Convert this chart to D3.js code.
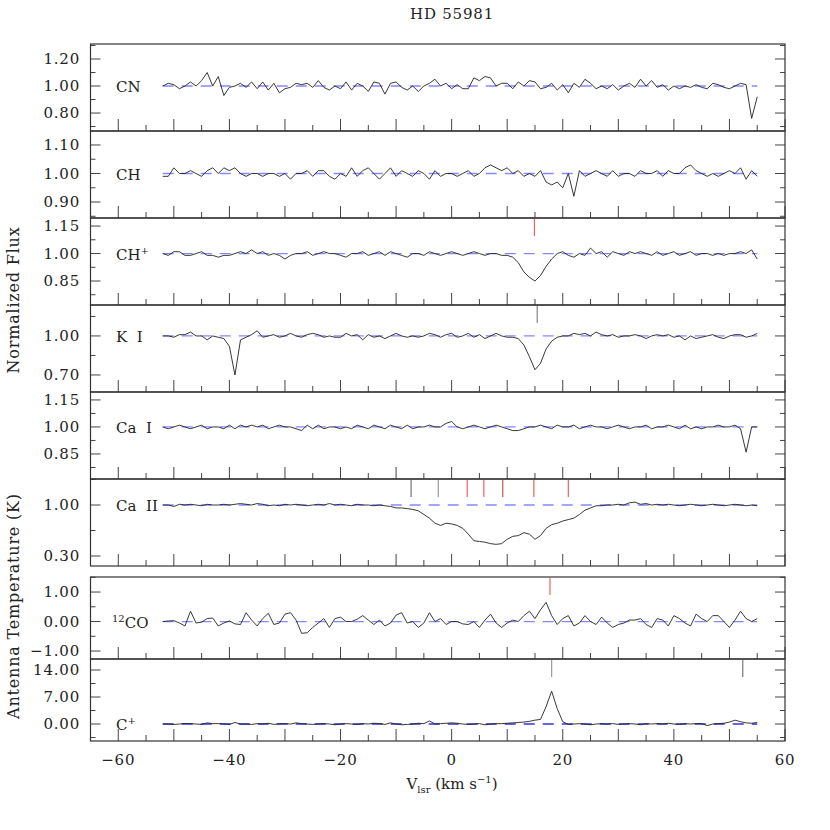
<!DOCTYPE html>
<html><head><meta charset="utf-8">
<script src="https://cdn.jsdelivr.net/npm/d3@7"></script>
<style>body{margin:0;background:#fff}</style></head>
<body><svg id="c" width="830" height="830"></svg>
<script>
const velStart = -52, velStep = 1;
const species = ["CN","CH","CH+","K I","Ca I","Ca II","12CO","C+"];
const CN = [1.00,1.02,1.01,0.98,1.00,1.03,1.00,1.04,1.10,1.00,
1.07,0.93,0.99,1.00,1.02,0.99,1.03,0.98,1.03,0.97,
1.02,0.95,0.98,0.99,1.02,1.01,1.02,0.99,1.04,0.99,
0.97,1.00,0.98,1.03,0.97,1.02,1.00,0.96,1.03,1.02,
0.94,1.02,1.03,0.99,0.97,1.00,0.96,1.00,1.02,1.05,
1.00,1.02,0.98,1.01,0.98,0.98,1.06,1.04,1.07,1.06,
1.00,1.02,1.02,0.98,1.03,1.00,1.04,1.03,0.98,0.99,
1.02,0.97,1.01,0.95,1.02,0.99,1.05,1.02,0.98,1.00,
0.98,1.01,0.97,1.00,1.02,0.99,1.05,1.00,1.04,0.99,
1.01,0.97,1.00,0.98,1.00,0.99,1.01,0.99,0.98,1.02,
1.01,0.99,0.98,1.00,1.02,1.01,0.76,0.92];
const CH = [0.99,0.99,1.02,1.00,1.00,1.01,1.00,0.99,1.01,1.02,
1.00,1.02,1.01,1.02,1.00,0.99,1.00,1.00,0.99,1.00,
1.00,0.99,1.00,0.98,1.00,1.00,1.01,0.99,1.01,1.01,
0.99,0.98,1.00,0.99,1.02,0.99,1.01,1.02,1.00,0.98,
1.00,1.02,0.99,1.01,1.00,0.99,1.01,1.00,0.98,1.01,
0.99,1.00,1.00,0.99,1.00,1.01,0.99,1.00,1.02,1.03,
1.02,1.01,1.02,1.00,1.01,0.99,1.00,0.99,1.01,0.97,
0.96,0.97,0.95,1.00,0.92,1.01,0.99,1.00,1.01,1.00,
0.99,1.01,0.99,1.00,1.00,0.99,1.01,1.00,1.00,1.01,
0.99,1.01,1.00,1.00,1.02,1.03,1.01,1.00,0.99,1.00,
0.99,1.00,1.01,1.00,1.02,0.98,1.01,0.99];
const CHp = [1.00,0.99,1.01,1.01,0.99,0.99,1.00,1.01,0.99,0.99,
0.98,0.99,0.99,1.00,1.01,1.00,1.02,1.00,1.01,0.99,
1.00,0.99,0.97,0.99,1.00,1.00,1.01,0.99,1.00,1.01,
1.00,1.00,0.99,0.98,1.00,1.00,1.01,0.99,1.00,1.01,
0.99,1.01,1.00,0.99,0.98,1.00,1.00,0.99,1.01,1.00,
0.99,1.00,1.01,1.00,0.99,1.00,1.01,1.00,0.99,1.00,
1.00,0.99,0.99,0.98,0.95,0.90,0.87,0.85,0.88,0.93,
0.97,1.00,1.01,0.99,0.98,1.00,0.99,1.03,1.00,1.01,
0.98,1.01,1.00,0.99,1.01,1.00,1.01,1.00,0.99,1.01,
0.99,1.00,1.01,0.99,1.00,1.01,0.99,1.00,1.00,0.99,
1.00,0.99,1.00,1.00,1.01,1.00,1.02,0.97];
const KI = [1.00,1.00,0.99,1.01,1.01,1.03,1.00,1.00,0.97,1.00,
0.99,0.98,0.92,0.70,0.97,0.99,1.01,1.04,0.99,1.00,
1.01,0.99,1.00,1.02,1.00,0.99,1.01,1.02,1.01,0.99,
1.00,0.99,0.99,1.02,1.00,1.01,0.97,1.01,0.99,1.00,
0.98,1.00,1.02,1.00,0.99,1.00,0.99,1.00,1.02,1.01,
0.99,1.01,1.02,0.99,1.00,1.02,0.99,1.01,0.98,1.00,
1.02,1.00,0.99,0.99,0.98,0.93,0.84,0.74,0.79,0.90,
0.96,0.99,1.00,1.00,1.02,1.01,1.02,1.00,1.03,1.01,
1.00,1.01,0.99,1.00,1.00,1.01,1.00,0.98,1.00,1.01,
1.00,1.01,0.99,1.00,0.97,1.00,0.98,0.99,1.00,1.01,
0.99,0.98,1.00,1.01,1.01,0.99,1.00,1.02];
const CaI = [1.00,0.99,1.00,1.01,1.00,0.99,1.00,1.01,0.99,1.00,
1.00,0.99,1.01,0.99,1.01,1.00,1.01,1.00,1.01,0.99,
1.00,1.01,1.00,1.00,0.99,0.98,1.01,0.99,1.01,0.99,
1.00,1.00,0.99,1.00,0.99,1.01,1.00,0.99,1.01,1.00,
0.99,1.01,1.00,0.99,1.01,0.99,1.00,1.00,1.01,1.00,
1.00,1.02,1.03,1.00,0.99,1.00,1.01,1.00,0.99,1.00,
1.01,1.00,0.99,0.98,0.98,0.99,1.00,1.00,1.01,1.00,
0.99,1.01,1.00,1.00,1.01,0.99,1.00,1.01,1.00,1.00,
0.99,1.00,1.01,1.00,0.99,1.00,1.00,1.01,0.99,1.00,
1.00,1.01,1.00,0.99,1.01,0.99,1.00,0.99,1.00,1.00,
1.01,1.00,1.00,1.01,0.99,0.86,1.00,1.00];
const CaII = [1.00,1.00,0.98,1.01,1.00,1.01,1.00,0.99,1.01,1.00,
1.00,1.01,1.00,1.01,1.02,1.01,1.00,1.02,1.01,0.99,
1.00,0.99,1.01,1.00,1.01,1.00,0.99,1.00,1.01,1.00,
1.02,1.00,1.01,1.00,0.99,1.01,1.00,1.00,0.99,1.00,
0.99,0.98,0.96,0.96,0.95,0.94,0.92,0.87,0.82,0.75,
0.72,0.75,0.74,0.72,0.68,0.60,0.51,0.50,0.49,0.47,
0.46,0.47,0.53,0.57,0.58,0.62,0.60,0.53,0.58,0.68,
0.73,0.75,0.78,0.80,0.82,0.87,0.93,0.96,0.99,0.99,
1.00,1.00,1.01,1.00,1.03,1.04,1.01,1.02,1.00,1.01,
1.00,1.01,1.00,0.99,1.00,1.01,1.00,0.99,1.00,1.01,
1.00,0.99,1.00,1.01,1.00,0.99,1.00,0.99];
const CO = [0.00,0.02,0.03,-0.05,-0.15,0.35,-0.05,-0.02,0.10,0.12,
-0.15,-0.05,0.02,-0.08,-0.10,0.30,0.05,-0.15,0.10,0.28,
-0.10,-0.05,0.25,0.30,0.05,-0.40,-0.38,-0.20,-0.05,0.10,
-0.20,0.10,0.15,0.00,0.00,0.08,0.20,0.05,-0.10,0.05,
-0.15,-0.05,0.22,0.30,-0.05,0.00,-0.20,-0.05,0.30,0.00,
0.10,-0.10,0.00,0.00,-0.08,-0.10,0.00,-0.20,0.05,0.25,
-0.05,-0.20,-0.05,0.05,0.00,0.20,0.35,0.10,0.40,0.65,
0.20,-0.10,0.10,0.20,-0.15,-0.05,0.20,0.00,-0.10,0.15,
-0.05,-0.20,-0.10,-0.05,0.05,0.05,0.10,-0.10,-0.20,0.10,
0.05,-0.15,0.20,0.10,-0.05,-0.15,0.25,0.10,0.00,0.20,
0.20,0.00,-0.20,0.05,0.35,0.10,0.00,0.10];
const Cp = [0.00,0.00,-0.10,0.00,0.15,0.10,0.00,-0.10,0.30,0.10,
0.10,0.05,-0.10,0.40,0.00,0.00,-0.10,0.10,0.00,0.20,
-0.10,0.05,0.10,0.00,0.30,0.10,0.00,-0.10,0.00,0.10,
0.00,-0.20,0.00,0.10,0.00,-0.10,0.10,0.00,0.20,0.10,
-0.10,0.30,0.00,-0.20,-0.10,0.00,0.20,0.10,0.80,0.00,
0.10,0.20,0.30,0.20,0.00,-0.10,0.00,0.10,-0.20,0.00,
0.10,0.10,0.20,0.30,0.40,0.50,0.70,1.00,1.20,4.50,
8.50,4.00,0.60,-0.10,0.00,0.10,0.00,-0.20,0.00,0.10,
0.00,0.10,-0.10,0.00,0.10,0.00,-0.20,0.10,0.00,0.10,
0.00,0.20,0.00,-0.10,0.10,0.00,0.10,0.10,-0.40,0.00,
0.10,0.20,0.50,1.00,0.60,0.30,0.20,0.40];
const seriesData = [CN,CH,CHp,KI,CaI,CaII,CO,Cp];
const yDomains = [[0.667,1.311],[0.844,1.149],[0.719,1.194],[0.569,1.238],[0.711,1.194],[0.163,1.357],[-1.27,1.51],[-4.4,16.85]];
const yLabels = [[0.80,1.00,1.20],[0.90,1.00,1.10],[0.85,1.00,1.15],[0.70,1.00],[0.85,1.00,1.15],[0.30,1.00],[-1,0,1],[0,7,14]];
const yMinorStep = [0.1,0.05,0.075,0.15,0.075,0.35,0.5,3.5];
const baseline = [1,1,1,1,1,1,0,0];
const markers = [[],[],[14.9],[15.4],[],[-7.3,-2.4,2.8,5.8,9.2,14.8,21.0],[17.7],[18.0,52.4]];
const markerColors = [[],[],["#f06060"],["#888"],[],["#777","#999","#f06060","#f06060","#d05050","#f06060","#f06060"],["#f06060"],["#999","#777"]];
const xTicks = [-60,-40,-20,0,20,40,60];
const xDomain = [-65,60];

const svg = d3.select("#c");
const font = "DejaVu Serif";
const L = 90.5, R = 785;
const x = d3.scaleLinear().domain(xDomain).range([L,R]);
const bounds = [[44,131],[131,218],[218,305],[305,392],[392,479],[479,566],[577,659],[659,741]];
const vel = d3.range(CN.length).map(i => velStart + i*velStep);

seriesData.forEach((vals,k) => {
  const [t,b] = bounds[k];
  const y = d3.scaleLinear().domain(yDomains[k]).range([b,t]);
  const g = svg.append("g");
  for (let v=-65; v<=60; v+=5) {
    const major = v%10===0;
    g.append("line").attr("x1",x(v)).attr("x2",x(v)).attr("y1",b).attr("y2",b-(major?12:6)).attr("stroke","#444").attr("stroke-width",1);
  }
  const [d0,d1] = yDomains[k];
  const st = yMinorStep[k];
  const base = yLabels[k][0];
  for (let i=-10;i<=10;i++){
    const v = base + i*st;
    if (v<d0||v>d1) continue;
    const major = yLabels[k].some(l=>Math.abs(l-v)<1e-6);
    const len = major?10:5;
    g.append("line").attr("x1",L).attr("x2",L+len).attr("y1",y(v)).attr("y2",y(v)).attr("stroke","#444");
    g.append("line").attr("x1",R).attr("x2",R-len).attr("y1",y(v)).attr("y2",y(v)).attr("stroke","#444");
  }
  yLabels[k].forEach(v=>{
    const txt = v<0 ? "\u2212"+Math.abs(v).toFixed(2) : v.toFixed(2);
    g.append("text").attr("x",80).attr("y",y(v)+5).attr("text-anchor","end").attr("font-family",font).attr("font-size",15).attr("letter-spacing",0.8).attr("fill","#222").text(txt);
  });
  g.append("line").attr("x1",x(velStart)).attr("x2",x(vel[vel.length-1])).attr("y1",y(baseline[k])).attr("y2",y(baseline[k]))
    .attr("stroke", k===7?"#3333dd":"#8888ff").attr("stroke-width",1.3).attr("stroke-dasharray","11,8");
  g.append("path").datum(vals).attr("fill","none").attr("stroke","#222").attr("stroke-width",0.9)
    .attr("d", d3.line().x((d,i)=>x(vel[i])).y(d=>y(d)));
  markers[k].forEach((m,j)=>{
    g.append("line").attr("x1",x(m)).attr("x2",x(m)).attr("y1",t+1).attr("y2",t+18).attr("stroke",markerColors[k][j]).attr("stroke-width",1.2);
  });
  g.append("rect").attr("x",L).attr("y",t).attr("width",R-L).attr("height",b-t).attr("fill","none").attr("stroke","#333").attr("stroke-width",1.2);
  const lab = g.append("text").attr("x",116).attr("y",y(baseline[k])+6).attr("font-family",font).attr("font-size",15).attr("fill","#222");
  if (species[k]==="CH+") { lab.text("CH"); lab.append("tspan").attr("dy",-6).attr("font-size",10).text("+"); }
  else if (species[k]==="C+") { lab.text("C"); lab.append("tspan").attr("dy",-6).attr("font-size",10).text("+"); }
  else if (species[k]==="12CO") { lab.attr("x",112); lab.append("tspan").attr("dy",-6).attr("font-size",10).text("12"); lab.append("tspan").attr("dy",6).text("CO"); }
  else lab.text(species[k].replace(" ","\u00a0\u00a0"));
});
xTicks.forEach(v=>{
  svg.append("text").attr("x",x(v)).attr("y",765).attr("text-anchor","middle").attr("font-family",font).attr("font-size",15).attr("letter-spacing",0.8).attr("fill","#222")
    .text(v<0?"\u2212"+Math.abs(v):v);
});
const xl = svg.append("text").attr("x",452).attr("y",789).attr("text-anchor","middle").attr("font-family",font).attr("font-size",15).attr("fill","#222");
xl.append("tspan").text("V");
xl.append("tspan").attr("dy",4).attr("font-size",10).text("lsr");
xl.append("tspan").attr("dy",-4).text(" (km s");
xl.append("tspan").attr("dy",-6).attr("font-size",10).text("\u22121");
xl.append("tspan").attr("dy",6).text(")");
svg.append("text").attr("x",452).attr("y",19).attr("text-anchor","middle").attr("font-family",font).attr("font-size",15).attr("letter-spacing",0.8).attr("fill","#222").text("HD 55981");
svg.append("text").attr("transform","translate(19,300) rotate(-90)").attr("text-anchor","middle").attr("font-family",font).attr("font-size",16).attr("letter-spacing",0.8).attr("fill","#222").text("Normalized Flux");
svg.append("text").attr("transform","translate(19,606) rotate(-90)").attr("text-anchor","middle").attr("font-family",font).attr("font-size",16).attr("letter-spacing",0.8).attr("fill","#222").text("Antenna Temperature (K)");
</script></body></html>
